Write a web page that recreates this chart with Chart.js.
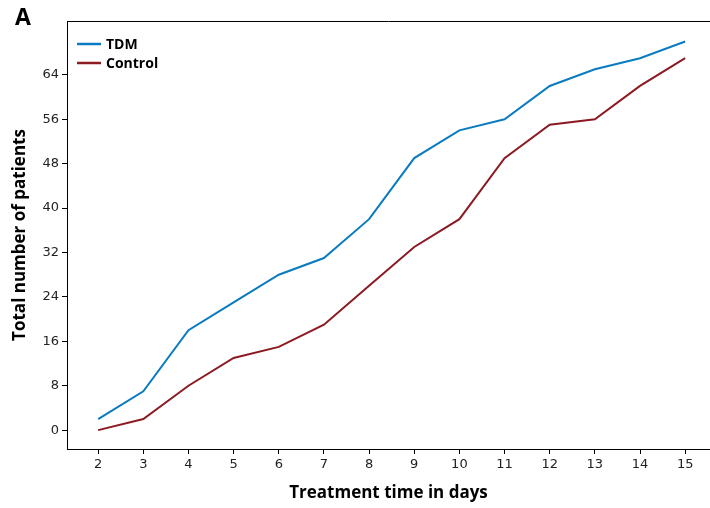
<!DOCTYPE html>
<html>
<head>
<meta charset="utf-8">
<script src="https://cdn.jsdelivr.net/npm/chart.js@4"></script>
<style>
  html,body{margin:0;padding:0;background:#fff;}
  #wrap{width:710px;height:508px;}
</style>
</head>
<body>
<div id="wrap"><canvas id="c" width="710" height="508"></canvas></div>
<script>
// data
const days = [2,3,4,5,6,7,8,9,10,11,12,13,14,15];
const tdm = [2,7,18,23,28,31,38,49,54,56,62,65,67,70];
const control = [0,2,8,13,15,19,26,33,38,49,55,56,62,67];
const yTicks = [0,8,16,24,32,40,48,56,64];
const xTicks = days;

const colors = {
  tdm:'#0a7bbf',      // blue
  control:'#8b1a22',  // dark red
  axis:'#000'
};

const pts = (ys)=>days.map((d,i)=>({x:d, y:ys[i]}));

// legend drawn inside the plot, top-left
const insideLegend = {
  id:'insideLegend',
  afterDatasetsDraw(chart){
    const {ctx, chartArea} = chart;
    ctx.save();
    ctx.font = 'bold 14px "Open Sans"';
    ctx.textBaseline = 'middle';
    chart.data.datasets.forEach((ds,i)=>{
      const y = chartArea.top + 23 + i*19;
      const x0 = chartArea.left + 10;
      ctx.strokeStyle = ds.borderColor;
      ctx.lineWidth = 2.5;
      ctx.beginPath(); ctx.moveTo(x0,y); ctx.lineTo(x0+24,y); ctx.stroke();
      ctx.fillStyle = '#000';
      ctx.fillText(ds.label, x0+29, y+1);
    });
    ctx.restore();
  }
};

// top frame line (no right frame in the figure)
const topLine = {
  id:'topLine',
  afterDraw(chart){
    const {ctx, chartArea} = chart;
    ctx.save();
    ctx.strokeStyle = colors.axis; ctx.lineWidth = 1;
    ctx.beginPath();
    ctx.moveTo(chartArea.left, chartArea.top + 0.5);
    ctx.lineTo(chartArea.right, chartArea.top + 0.5);
    ctx.stroke();
    ctx.restore();
  }
};

new Chart(document.getElementById('c'), {
  type:'line',
  data:{
    datasets:[
      {label:'TDM', data:pts(tdm), borderColor:colors.tdm, backgroundColor:colors.tdm, borderWidth:2, tension:0, pointRadius:0, fill:false},
      {label:'Control', data:pts(control), borderColor:colors.control, backgroundColor:colors.control, borderWidth:2, tension:0, pointRadius:0, fill:false}
    ]
  },
  options:{
    responsive:false, animation:false,
    layout:{padding:{left:15, right:0, top:0, bottom:0}},
    plugins:{
      legend:{display:false},
      tooltip:{enabled:false},
      title:{display:true, text:'A', align:'start', color:'#000',
        font:{family:'Open Sans', size:23, weight:'bold', lineHeight:1},
        padding:{top:6.5, bottom:-8.5}}
    },
    scales:{
      x:{
        type:'linear', min:1.31, max:15.55,
        afterBuildTicks:(ax)=>{ ax.ticks = xTicks.map(v=>({value:v})); },
        afterFit:(ax)=>{ ax.height = 59; },
        grid:{display:true, drawOnChartArea:false, drawTicks:true, tickLength:5, color:colors.axis},
        border:{display:true, color:colors.axis, width:1},
        ticks:{color:'#222', padding:3, maxRotation:0, autoSkip:false, font:{family:'DejaVu Sans', size:13}},
        title:{display:true, text:'Treatment time in days', color:'#000',
          font:{family:'Open Sans', size:17, weight:'bold'}, padding:{top:0, bottom:5}}
      },
      y:{
        type:'linear', min:-3.4, max:73.7,
        afterBuildTicks:(ax)=>{ ax.ticks = yTicks.map(v=>({value:v})); },
        afterFit:(ax)=>{ ax.width = 52; },
        grid:{display:true, drawOnChartArea:false, drawTicks:true, tickLength:5, color:colors.axis},
        border:{display:true, color:colors.axis, width:1},
        ticks:{color:'#222', padding:3, autoSkip:false, font:{family:'DejaVu Sans', size:13}},
        title:{display:true, text:'Total number of patients', color:'#000',
          font:{family:'Open Sans', size:17, weight:'bold'}, padding:{top:-5.2, bottom:0}}
      }
    }
  },
  plugins:[insideLegend, topLine]
});
</script>
</body>
</html>
